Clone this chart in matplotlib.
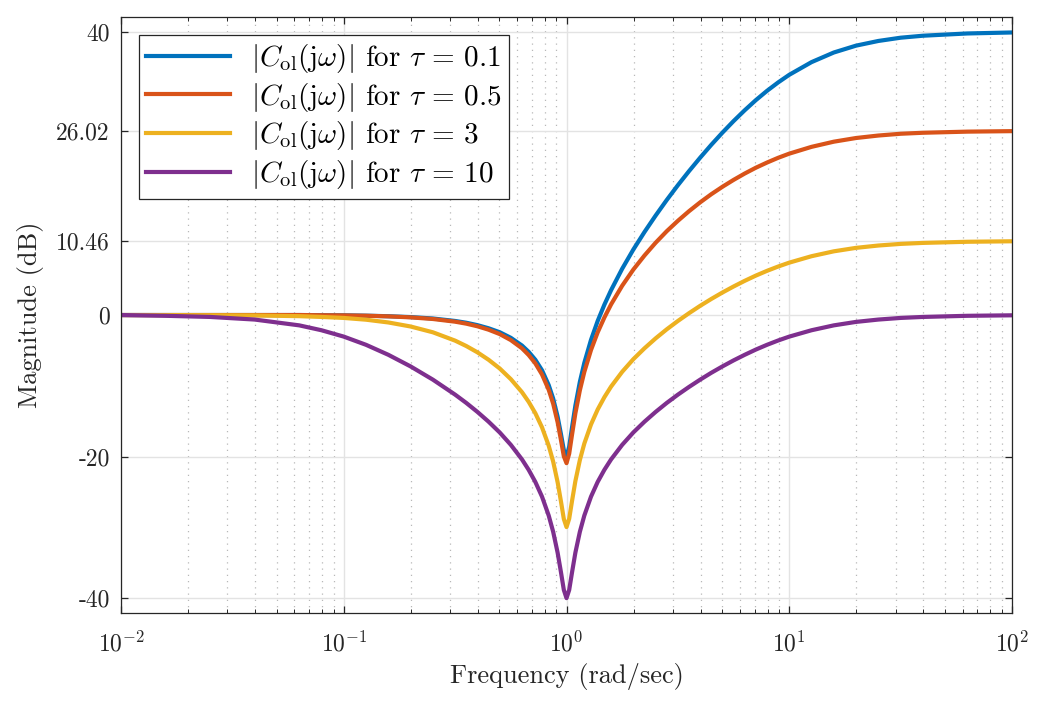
import numpy as np
import matplotlib
matplotlib.use("Agg")
import matplotlib.pyplot as plt
from matplotlib.ticker import LogLocator, NullFormatter

plt.rcParams['font.family'] = ['cmr10', 'DejaVu Serif']
plt.rcParams['mathtext.fontset'] = 'cm'
plt.rcParams['axes.unicode_minus'] = False
plt.rcParams['axes.formatter.use_mathtext'] = True

# frequency samples (rad/sec)
freq = [0.01, 0.0158, 0.0251, 0.0398, 0.0631, 0.0794, 0.1, 0.1259, 0.1585, 0.1995,
        0.2512, 0.3162, 0.3548, 0.3981, 0.4467, 0.5012, 0.5623, 0.631, 0.6761, 0.7244,
        0.7762, 0.8318, 0.871, 0.912, 0.9441, 0.9727, 1.0, 1.028, 1.059, 1.096,
        1.148, 1.202, 1.288, 1.380, 1.479, 1.585, 1.778, 1.995, 2.239, 2.512,
        2.818, 3.162, 3.548, 3.981, 4.467, 5.012, 5.623, 6.31, 7.079, 7.943,
        8.913, 10.0, 12.59, 15.85, 19.95, 25.12, 31.62, 39.81, 63.1, 100.0]

# magnitudes in dB
mag_tau_01 = [0.0, 0.0, 0.0, 0.0, 0.0, -0.02, -0.04, -0.09, -0.17, -0.29,
              -0.49, -0.84, -1.09, -1.43, -1.87, -2.43, -3.22, -4.31, -5.20, -6.32,
              -7.81, -9.90, -11.80, -14.35, -16.82, -19.08, -20.0, -18.60, -15.84, -12.79,
              -9.44, -6.76, -3.51, -0.84, 1.46, 3.51, 6.54, 9.25, 11.73, 14.05,
              16.25, 18.34, 20.33, 22.23, 24.05, 25.77, 27.40, 28.93, 30.36, 31.67,
              32.86, 33.94, 35.73, 37.09, 38.06, 38.72, 39.18, 39.46, 39.78, 39.92]
mag_tau_05 = [0.0, 0.0, 0.0, 0.0, 0.0, -0.03, -0.05, -0.10, -0.19, -0.33,
              -0.56, -0.94, -1.22, -1.59, -2.07, -2.69, -3.54, -4.70, -5.65, -6.83,
              -8.40, -10.56, -12.52, -15.14, -17.66, -19.96, -20.93, -19.58, -16.87, -13.88,
              -10.63, -8.04, -4.94, -2.45, -0.35, 1.50, 4.14, 6.42, 8.41, 10.21,
              11.84, 13.31, 14.67, 15.92, 17.07, 18.12, 19.09, 19.99, 20.81, 21.54,
              22.21, 22.80, 23.76, 24.49, 25.01, 25.36, 25.61, 25.75, 25.91, 25.98]
mag_tau_3 = [0.0, -0.01, -0.03, -0.06, -0.16, -0.27, -0.41, -0.66, -1.05, -1.62,
             -2.44, -3.62, -4.38, -5.27, -6.32, -7.55, -9.06, -10.90, -12.26, -13.87,
             -15.87, -18.46, -20.70, -23.61, -26.33, -28.82, -29.96, -28.78, -26.24, -23.46,
             -20.48, -18.16, -15.46, -13.35, -11.61, -10.11, -8.02, -6.24, -4.70, -3.30,
             -2.02, -0.84, 0.26, 1.30, 2.27, 3.18, 4.03, 4.83, 5.57, 6.24,
             6.85, 7.40, 8.31, 9.00, 9.49, 9.82, 10.05, 10.19, 10.35, 10.42]
mag_tau_10 = [0.0, -0.11, -0.27, -0.64, -1.46, -2.15, -3.05, -4.21, -5.62, -7.26,
              -9.13, -11.25, -12.42, -13.69, -15.07, -16.59, -18.34, -20.40, -21.87, -23.58,
              -25.66, -28.33, -30.62, -33.57, -36.33, -38.84, -40.0, -38.84, -36.33, -33.57,
              -30.62, -28.33, -25.66, -23.58, -21.87, -20.40, -18.34, -16.59, -15.07, -13.69,
              -12.42, -11.25, -10.16, -9.13, -8.16, -7.26, -6.41, -5.62, -4.88, -4.21,
              -3.60, -3.05, -2.15, -1.46, -0.97, -0.64, -0.41, -0.27, -0.11, -0.04]

series = [mag_tau_01, mag_tau_05, mag_tau_3, mag_tau_10]
labels = [r'$|C_{\mathrm{ol}}(\mathrm{j}\omega)|$ for $\tau\,=\,0.1$',
          r'$|C_{\mathrm{ol}}(\mathrm{j}\omega)|$ for $\tau\,=\,0.5$',
          r'$|C_{\mathrm{ol}}(\mathrm{j}\omega)|$ for $\tau\,=\,3$',
          r'$|C_{\mathrm{ol}}(\mathrm{j}\omega)|$ for $\tau\,=\,10$']
colors = ['#0072BD', '#D95319', '#EDB120', '#7E2F8E']

ytick_vals = [-40, -20, 0, 10.46, 26.02, 40]
ytick_labels = ['-40', '-20', '0', '10.46', '26.02', '40']
xtick_vals = [1e-2, 1e-1, 1e0, 1e1, 1e2]
xtick_labels = [r'$10^{-2}$', r'$10^{-1}$', r'$10^{0}$', r'$10^{1}$', r'$10^{2}$']

fig = plt.figure(figsize=(10.6, 7.1), dpi=100)
ax = fig.add_axes([0.1142, 0.1366, 0.8405, 0.8394])

for m, lab, c in zip(series, labels, colors):
    ax.semilogx(freq, m, color=c, lw=3.0, label=lab, solid_joinstyle='round')

ax.set_xlim(1e-2, 1e2)
ax.set_ylim(-42.1, 42.1)
ax.set_yticks(ytick_vals)
ax.set_yticklabels(ytick_labels)
ax.set_xticks(xtick_vals)
ax.set_xticklabels(xtick_labels)
ax.xaxis.set_minor_locator(LogLocator(base=10, subs=np.arange(2, 10), numticks=20))
ax.xaxis.set_minor_formatter(NullFormatter())

ax.grid(True, which='major', color='#e3e3e3', lw=1.0, ls='-')
ax.grid(True, which='minor', axis='x', color='#b8b8b8', lw=0.9, ls=(0, (1, 4)))
ax.set_axisbelow(True)

for sp in ax.spines.values():
    sp.set_color('#262626')
    sp.set_linewidth(0.9)
ax.tick_params(which='both', direction='in', top=True, right=True, color='#262626',
               labelsize=17, labelcolor='#262626')
ax.tick_params(which='major', length=5, width=0.9, pad=8)
ax.tick_params(which='minor', length=3, width=0.7)
ax.tick_params(axis='x', which='major', pad=13)

ax.set_xlabel('Frequency (rad/sec)', fontsize=19, color='#262626', labelpad=5)
ax.set_ylabel('Magnitude (dB)', fontsize=19, color='#262626', labelpad=9)

leg = ax.legend(loc='upper left', fontsize=21, frameon=True, fancybox=False,
                edgecolor='#262626', framealpha=1, borderaxespad=0.6,
                handlelength=2.9, labelspacing=0.2, borderpad=0.25, handletextpad=0.7)
leg.get_frame().set_linewidth(0.9)
for ln in leg.get_lines():
    ln.set_linewidth(3.0)

fig.savefig('out.png', dpi=100)
